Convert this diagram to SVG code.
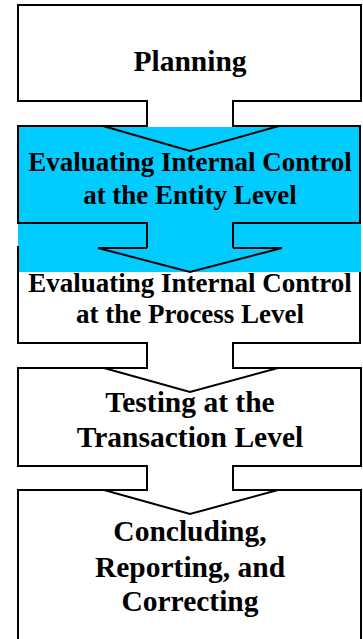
<svg xmlns="http://www.w3.org/2000/svg" width="363" height="639" viewBox="0 0 363 639">
<style>
.box{fill:#fff;stroke:#000;stroke-width:2}
.ln{fill:none;stroke:#000;stroke-width:2}
.t{font-family:'Liberation Serif','Times New Roman',Times,'DejaVu Serif',serif;font-weight:700;text-anchor:middle;fill:#000}
.t27{font-size:27px}
.t29{font-size:29.5px}
</style>
<rect x="0" y="0" width="363" height="639" fill="#fff"/>
<g id="n1">
<rect class="box" x="18" y="5" width="343" height="96"/>
<text class="t t29" x="190" y="71">Planning</text>
</g>
<g id="highlight">
<rect x="18" y="126" width="343" height="146" fill="#00CCFF"/>
</g>
<g id="n2">
<path class="ln" d="M18,126 H360 V223 H18 Z"/>
<text class="t t27" x="190" y="171">Evaluating Internal Control</text>
<text class="t t27" x="190" y="204">at the Entity Level</text>
</g>
<g id="n3">
<rect x="18" y="272" width="342" height="71" fill="#fff"/>
<path class="ln" d="M18,246 V343 H360 V272"/>
<path class="ln" d="M98,248 H147 M233,248 H282"/>
<text class="t t27" x="190" y="292">Evaluating Internal Control</text>
<text class="t t27" x="190" y="323">at the Process Level</text>
</g>
<g id="n4">
<rect class="box" x="18" y="368" width="343" height="98"/>
<text class="t t29" x="190" y="412">Testing at the</text>
<text class="t t29" x="190" y="447">Transaction Level</text>
</g>
<g id="n5">
<rect class="box" x="18" y="490" width="343" height="160"/>
<text class="t t29" x="190" y="541">Concluding,</text>
<text class="t t29" x="190" y="577">Reporting, and</text>
<text class="t t29" x="190" y="611">Correcting</text>
</g>
<g id="connectors">
<rect x="148" y="100" width="84" height="27" fill="#fff"/>
<path class="ln" d="M147,101 V126 M233,101 V126"/>
<path class="ln" d="M103,126 L190,151 L279,126"/>
<rect x="148" y="222" width="84" height="27" fill="#00CCFF"/>
<path class="ln" d="M147,223 V248 M233,223 V248"/>
<path class="ln" d="M98,248 L190,272 L282,248"/>
<rect x="148" y="342" width="84" height="27" fill="#fff"/>
<path class="ln" d="M147,343 V368 M233,343 V368"/>
<path class="ln" d="M104,368 L190,392 L278,368"/>
<rect x="148" y="465" width="84" height="26" fill="#fff"/>
<path class="ln" d="M147,466 V490 M233,466 V490"/>
<path class="ln" d="M104,490 L190,514 L278,490"/>
</g>
</svg>
